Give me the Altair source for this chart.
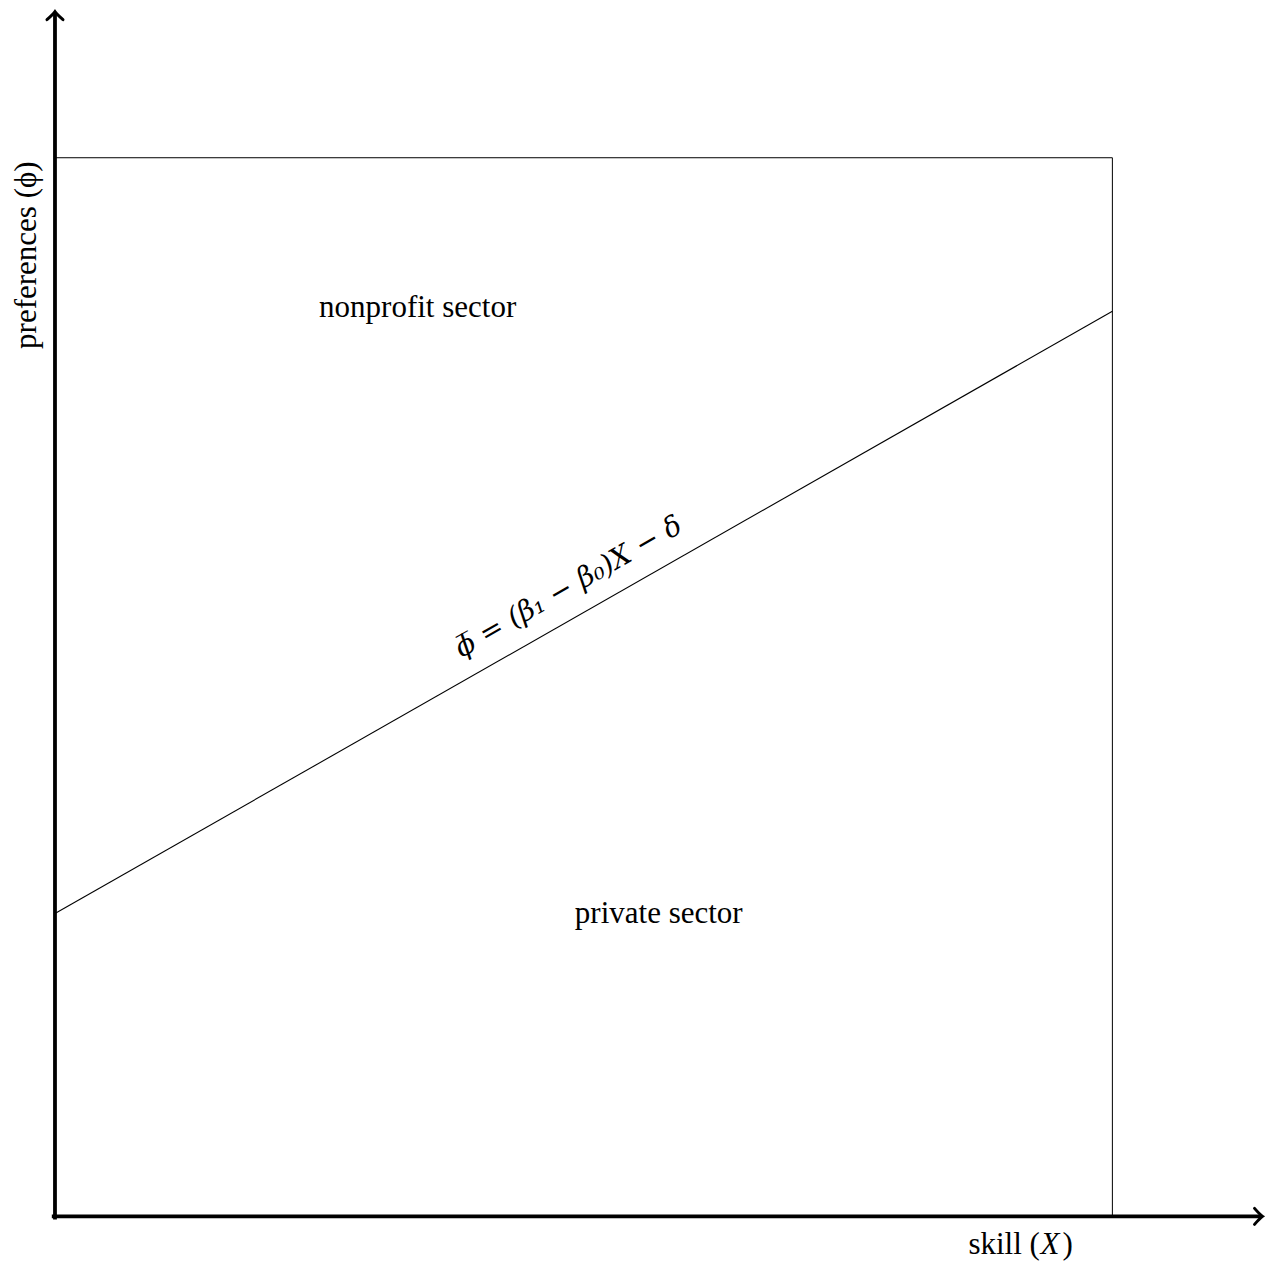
import altair as alt
import pandas as pd

# Data space: skill X and preferences phi both run over [0, 1] inside the box,
# the axis arrows reach a little beyond it.
X_RANGE = [-0.052, 1.150]
Y_RANGE = [-0.045, 1.149]
X_ARROW_TIP = 1.142
Y_ARROW_TIP = 1.138

# Sorting boundary phi_bar = (beta1 - beta0) X - delta
cutoff_x = [0.0, 1.0]
cutoff_y = [0.286, 0.855]

# Region names
region_labels = ["nonprofit sector", "private sector"]
region_x = [0.343, 0.571]
region_y = [0.858, 0.286]

# Boundary equation written along the line
eq_label = "\u03d5\u0305 = (\u03b2\u2081 \u2212 \u03b2\u2080)X \u2212 \u03b4"
eq_x, eq_y = 0.486, 0.594
eq_angle = 330.3

# Axis titles (the x title is set in three pieces so the variable is italic)
x_title_parts = ["skill (", "X", ")"]
x_title_pos = (0.913, -0.027)
y_title, y_title_pos = "preferences (\u03d5)", (-0.026, 0.908)

FONT = "Liberation Serif"
FS = 31

xs = alt.Scale(domain=X_RANGE, nice=False, zero=False)
ys = alt.Scale(domain=Y_RANGE, nice=False, zero=False)


def X(field="x"):
    return alt.X(f"{field}:Q", scale=xs, axis=None)


def Y(field="y"):
    return alt.Y(f"{field}:Q", scale=ys, axis=None)


# Axes with arrows
x_axis = alt.Chart(pd.DataFrame({"x": [-0.003], "x2": [X_ARROW_TIP - 0.002], "y": [0.0]})).mark_rule(
    color="black", strokeWidth=3.8
).encode(x=X(), x2="x2:Q", y=Y())
y_axis = alt.Chart(pd.DataFrame({"x": [0.0], "y": [-0.003], "y2": [Y_ARROW_TIP - 0.002]})).mark_rule(
    color="black", strokeWidth=3.8
).encode(x=X(), y=Y(), y2="y2:Q")

chevron = "M -1 -1 Q -0.35 -0.25 0 0 Q -0.35 0.25 -1 1"
x_head = alt.Chart(pd.DataFrame({"x": [X_ARROW_TIP], "y": [0.0]})).mark_point(
    shape=chevron, filled=False, size=256, stroke="black", strokeWidth=3, opacity=1, strokeCap="round"
).encode(x=X(), y=Y())
y_head = alt.Chart(pd.DataFrame({"x": [0.0], "y": [Y_ARROW_TIP]})).mark_point(
    shape=chevron, filled=False, size=256, stroke="black", strokeWidth=3, opacity=1, angle=270, strokeCap="round"
).encode(x=X(), y=Y())

# Box bounding the support of (X, phi)
box_top = alt.Chart(pd.DataFrame({"x": [0.0], "x2": [1.0], "y": [1.0]})).mark_rule(
    color="black", strokeWidth=1
).encode(x=X(), x2="x2:Q", y=Y())
box_right = alt.Chart(pd.DataFrame({"x": [1.0], "y": [0.0], "y2": [1.0]})).mark_rule(
    color="black", strokeWidth=1
).encode(x=X(), y=Y(), y2="y2:Q")

# Sorting boundary
cutoff = alt.Chart(pd.DataFrame({"x": cutoff_x, "y": cutoff_y})).mark_line(
    color="black", strokeWidth=1.1
).encode(x=X(), y=Y())

regions = alt.Chart(pd.DataFrame({"x": region_x, "y": region_y, "t": region_labels})).mark_text(
    font=FONT, fontSize=FS, color="black", align="center", baseline="middle"
).encode(x=X(), y=Y(), text="t:N")

equation = alt.Chart(pd.DataFrame({"x": [eq_x], "y": [eq_y], "t": [eq_label]})).mark_text(
    font="DejaVu Serif", fontSize=28, fontStyle="italic", fontWeight="normal", color="black",
    align="center", baseline="middle", angle=eq_angle
).encode(x=X(), y=Y(), text="t:N")

# x title: upright word, italic variable, upright closing bracket
xt_df = pd.DataFrame({"x": [x_title_pos[0]], "y": [x_title_pos[1]]})
xt_styles = [
    dict(text=x_title_parts[0], dx=-52, fontStyle="normal"),
    dict(text=x_title_parts[1], dx=20, fontStyle="italic"),
    dict(text=x_title_parts[2], dx=42, fontStyle="normal"),
]
xlab_layers = [
    alt.Chart(xt_df).mark_text(
        font=FONT, fontSize=FS, color="black", align="left", baseline="middle", **s
    ).encode(x=X(), y=Y())
    for s in xt_styles
]

ylab = alt.Chart(pd.DataFrame({"x": [y_title_pos[0]], "y": [y_title_pos[1]], "t": [y_title]})).mark_text(
    font=FONT, fontSize=FS, color="black", align="center", baseline="middle", angle=270
).encode(x=X(), y=Y(), text="t:N")

chart = alt.layer(
    box_top, box_right, cutoff, x_axis, y_axis, x_head, y_head, regions, equation, *xlab_layers, ylab
).properties(
    width=1271, height=1264, padding=0, autosize=alt.AutoSizeParams(type="none"), background="white"
).configure_view(stroke=None)

chart.save("out.html", embed_options={"renderer": "svg", "actions": False})
